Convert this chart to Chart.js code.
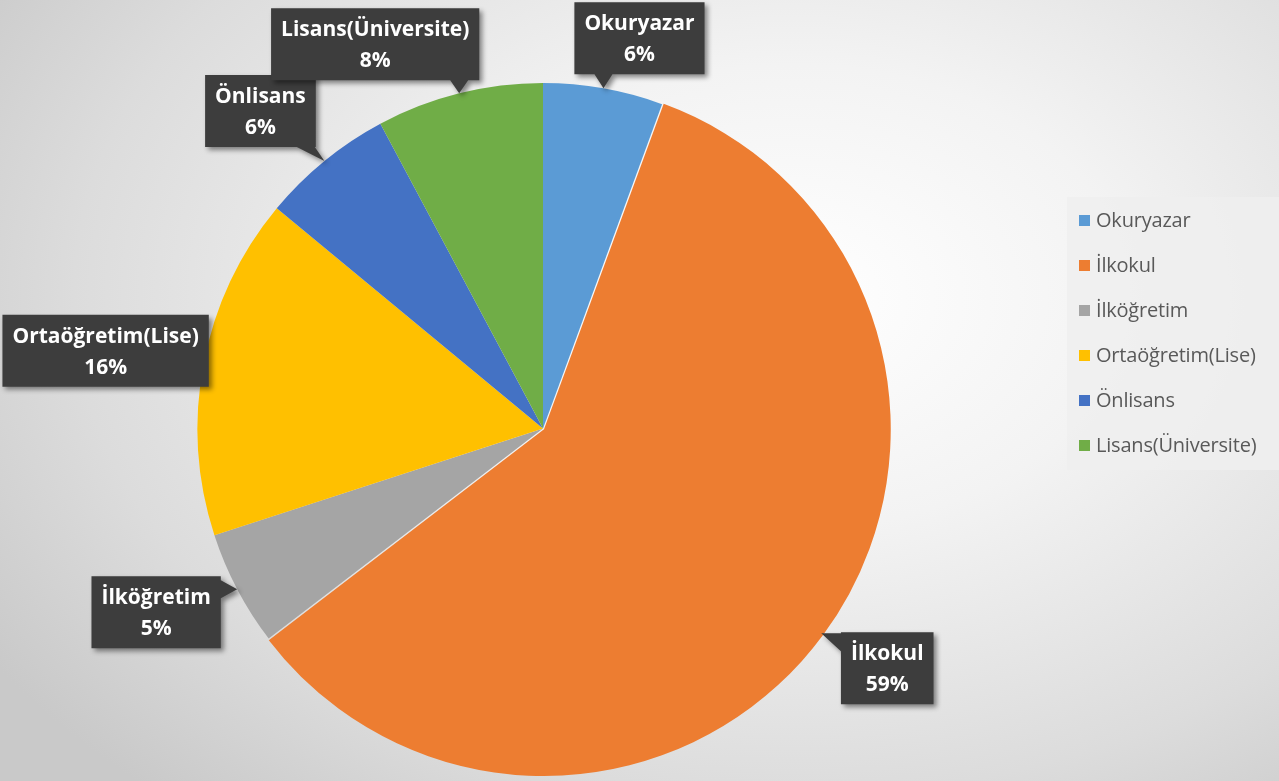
<!DOCTYPE html>
<html lang="tr">
<head>
<meta charset="utf-8">
<title>Eğitim Durumu</title>
<script src="https://cdn.jsdelivr.net/npm/chart.js@4.4.0/dist/chart.umd.min.js"></script>
<style>
    html, body {
        margin: 0;
        padding: 0;
        width: 1279px;
        height: 781px;
        overflow: hidden;
    }
    body {
        background: radial-gradient(ellipse 75% 85% at 62% 38%, #ffffff 0%, #f3f3f3 35%, #dcdcdc 75%, #c9c9c9 100%);
        font-family: "Open Sans", Lato, sans-serif;
        position: relative;
    }
    #pasta {
        position: absolute;
        left: 0;
        top: 0;
    }
    #leyenda {
        position: absolute;
        left: 1067px;
        top: 197px;
        width: 212px;
        height: 273px;
        background: rgba(238, 238, 238, 0.85);
        box-sizing: border-box;
        padding-top: 9px;
    }
    #leyenda div {
        height: 45px;
        line-height: 28px;
        font-size: 20px;
        color: #595959;
        padding-left: 12px;
        white-space: nowrap;
        letter-spacing: -0.2px;
    }
    #leyenda span {
        display: inline-block;
        width: 11px;
        height: 11px;
        margin-right: 6px;
        vertical-align: 1px;
    }
</style>
</head>
<body>
<canvas id="pasta" width="1279" height="781"></canvas>
<div id="leyenda"></div>

<script>
//Datos del grafico
const categorias = ['Okuryazar', 'İlkokul', 'İlköğretim', 'Ortaöğretim(Lise)', 'Önlisans', 'Lisans(Üniversite)'];
const valores = [5.6, 59.0, 5.4, 16.0, 6.2, 7.8];
const colores = ['#5B9BD5', '#ED7D31', '#A5A5A5', '#FFC000', '#4472C4', '#70AD47'];

//Desplazamiento de cada etiqueta respecto al borde de su porcion
const desplazEtiquetas = [[36, -50], [66, 35], [-81, 23], [-98, -13], [-64, -50], [-84, -49]];

//Leyenda
const leyenda = document.getElementById('leyenda');
categorias.forEach((c, i) => {
    const fila = document.createElement('div');
    fila.innerHTML = '<span style="background:' + colores[i] + '"></span>' + c;
    leyenda.appendChild(fila);
});

//Etiquetas con globo oscuro
const etiquetas = {
    id: 'etiquetas',
    afterDatasetsDraw(chart) {
        const ctx = chart.ctx;
        const meta = chart.getDatasetMeta(0);
        const total = valores.reduce((a, b) => a + b, 0);
        ctx.save();
        ctx.font = 'bold 21px "Open Sans", Lato, sans-serif';
        meta.data.forEach((arc, i) => {
            const p = arc.getProps(['x', 'y', 'startAngle', 'endAngle', 'outerRadius']);
            const mid = (p.startAngle + p.endAngle) / 2;
            const ax = p.x + Math.cos(mid) * p.outerRadius;
            const ay = p.y + Math.sin(mid) * p.outerRadius;
            const cx = ax + desplazEtiquetas[i][0];
            const cy = ay + desplazEtiquetas[i][1];

            const linea1 = categorias[i];
            const linea2 = Math.round(valores[i] / total * 100) + '%';
            const w = Math.max(ctx.measureText(linea1).width, ctx.measureText(linea2).width) + 20;
            const h = 72;
            const x0 = cx - w / 2, y0 = cy - h / 2, x1 = cx + w / 2, y1 = cy + h / 2;

            //Punta del globo
            let base = null;
            if (ay > y1) {
                const bx = Math.min(Math.max(ax, x0 + 10), x1 - 10);
                base = [[bx - 9, y1], [bx + 9, y1]];
            } else if (ax > x1) {
                const by = Math.min(Math.max(ay, y0 + 10), y1 - 10);
                base = [[x1, by - 9], [x1, by + 9]];
            } else if (ax < x0) {
                const by = Math.min(Math.max(ay, y0 + 10), y1 - 10);
                base = [[x0, by - 9], [x0, by + 9]];
            }

            ctx.shadowColor = 'rgba(0,0,0,0.45)';
            ctx.shadowBlur = 5;
            ctx.shadowOffsetX = 3;
            ctx.shadowOffsetY = 3;
            ctx.fillStyle = '#3d3d3d';
            ctx.beginPath();
            ctx.rect(x0, y0, w, h);
            if (base) {
                ctx.moveTo(base[0][0], base[0][1]);
                ctx.lineTo(ax, ay);
                ctx.lineTo(base[1][0], base[1][1]);
                ctx.closePath();
            }
            ctx.fill();

            ctx.shadowColor = 'transparent';
            ctx.fillStyle = '#ffffff';
            ctx.textAlign = 'center';
            ctx.textBaseline = 'middle';
            ctx.fillText(linea1, cx, cy - 14);
            ctx.fillText(linea2, cx, cy + 17);
        });
        ctx.restore();
    }
};

//Grafica circular
const pasta = document.getElementById('pasta');

if (pasta) {
    new Chart(pasta, {
        type: 'pie',
        data: {
            labels: categorias,
            datasets: [{
                data: valores,
                backgroundColor: colores,
                borderWidth: 0,
                offset: [0, 5, 0, 0, 0, 0]
            }]
        },
        options: {
            responsive: false,
            animation: false,
            layout: {
                padding: { left: 195, right: 388, top: 80, bottom: 4 }
            },
            plugins: {
                legend: { display: false },
                tooltip: { enabled: false }
            }
        },
        plugins: [etiquetas]
    });
}
</script>
</body>
</html>
